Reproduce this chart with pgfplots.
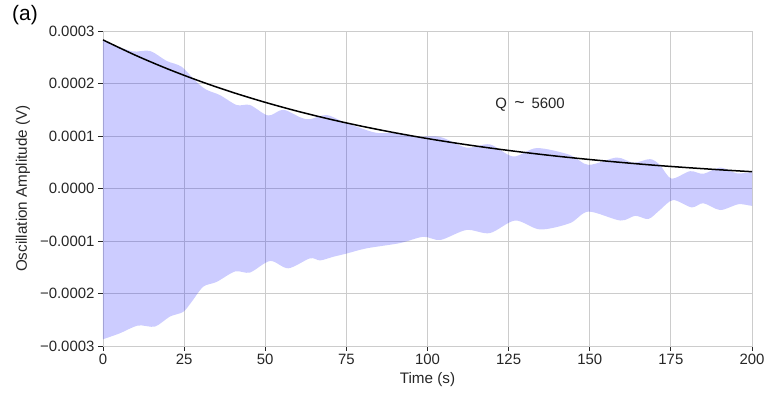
\documentclass[border=0pt]{standalone}
\usepackage{fontspec}
\setmainfont{Liberation Sans}
\usepackage{pgfplots}
\pgfplotsset{compat=1.18}
\definecolor{gridgray}{RGB}{204,204,204}
\definecolor{txt}{RGB}{38,38,38}
\begin{document}
\begin{tikzpicture}
\path[use as bounding box] (-103bp,-53bp) rectangle (664bp,346bp);
\begin{axis}[at={(0,0)}, anchor=south west, scale only axis,
  width=649bp, height=315bp,
  xmin=0, xmax=200, ymin=-0.0003, ymax=0.0003,
  xtick={0,25,50,75,100,125,150,175,200},
  xticklabels={0,25,50,75,100,125,150,175,200},
  ytick={-0.0003,-0.0002,-0.0001,0,0.0001,0.0002,0.0003},
  yticklabels={−0.0003,−0.0002,−0.0001,0.0000,0.0001,0.0002,0.0003},
  scaled y ticks=false, scaled x ticks=false,
  grid=major, major grid style={gridgray, line width=0.9bp},
  axis line style={gridgray, line width=0.9bp},
  tick style={txt, line width=0.9bp}, tick align=outside, major tick length=5bp,
  tick pos=left,
  ticklabel style={font=\fontsize{15}{18}\selectfont, text=txt},
  every axis y label/.style={at={(axis description cs:-0.1233,0.5)}, rotate=90, anchor=center, font=\fontsize{15.3}{18}\selectfont, text=txt},
  every axis x label/.style={at={(axis description cs:0.5,-0.108)}, anchor=center, font=\fontsize{15.3}{18}\selectfont, text=txt},
  xlabel={Time (s)}, ylabel={Oscillation Amplitude (V)},
  clip=true,
]
% envelope: upper edge left to right, then lower edge right to left
\addplot[fill=blue, fill opacity=0.2, draw=none, smooth, tension=0.5] coordinates {
(-3,2.87e-4) (0,2.83e-4) (4,2.72e-4) (9.3,2.61e-4) (14.5,2.62e-4) (19.6,2.43e-4) (24.2,2.32e-4)
(28.8,2.03e-4) (31.9,1.88e-4) (36,1.78e-4) (41.2,1.59e-4) (45.3,1.59e-4)
(50.9,1.39e-4) (55.5,1.50e-4) (61,1.35e-4) (63.8,1.32e-4) (68.9,1.40e-4)
(74,1.27e-4) (79,1.16e-4) (84.3,1.06e-4) (91.5,1.05e-4) (96.6,0.99e-4)
(104,0.98e-4) (112,0.78e-4) (119.2,0.84e-4) (126.4,0.61e-4) (133.7,0.77e-4)
(143.9,0.64e-4) (149.6,0.45e-4) (158.3,0.59e-4) (163.4,0.49e-4) (168.6,0.56e-4)
(171.6,0.45e-4) (175.2,0.19e-4) (180.9,0.33e-4) (185,0.28e-4) (190.2,0.40e-4)
(195.3,0.29e-4) (200,0.31e-4) (204,0.32e-4)
(204,-0.33e-4) (200,-0.33e-4) (195.8,-0.30e-4) (190.2,-0.41e-4) (185,-0.28e-4)
(181.4,-0.36e-4) (175.7,-0.22e-4) (171.6,-0.41e-4) (168.1,-0.58e-4) (164,-0.52e-4)
(159.4,-0.61e-4) (149.6,-0.44e-4) (143.9,-0.66e-4) (134.7,-0.78e-4) (127,-0.61e-4)
(119.2,-0.85e-4) (112,-0.79e-4) (104,-0.98e-4) (98.7,-0.92e-4) (91.5,-1.04e-4)
(81.2,-1.14e-4) (75,-1.24e-4) (71,-1.30e-4) (66.9,-1.37e-4) (63.8,-1.33e-4)
(57.1,-1.52e-4) (51.5,-1.38e-4) (45.3,-1.60e-4) (40.7,-1.58e-4) (35,-1.78e-4)
(30.9,-1.87e-4) (27.3,-2.16e-4) (24.7,-2.35e-4) (20.6,-2.44e-4) (16,-2.63e-4)
(10.8,-2.61e-4) (5.1,-2.76e-4) (0,-2.87e-4) (-3,-2.92e-4)
} -- cycle;
\addplot[black, line width=1.5bp, smooth] coordinates {
(0,2.830e-4) (10,2.538e-4) (20,2.276e-4) (30,2.041e-4) (40,1.830e-4) (50,1.641e-4)
(60,1.471e-4) (70,1.319e-4) (80,1.183e-4) (90,1.061e-4) (100,0.951e-4) (110,0.853e-4)
(120,0.765e-4) (130,0.686e-4) (140,0.615e-4) (150,0.552e-4) (160,0.495e-4)
(170,0.443e-4) (180,0.398e-4) (190,0.357e-4) (200,0.320e-4)
};
\node[font=\fontsize{15}{18}\selectfont, text=txt] at (axis cs:131.6,1.59e-4) {Q\hspace{0.5em}{\fontsize{18}{18}\selectfont\textasciitilde}\hspace{0.45em}5600};
\end{axis}
\node[font=\fontsize{21}{24}\selectfont, text=black] at (-78bp,331bp) {(a)};
\end{tikzpicture}
\end{document}
